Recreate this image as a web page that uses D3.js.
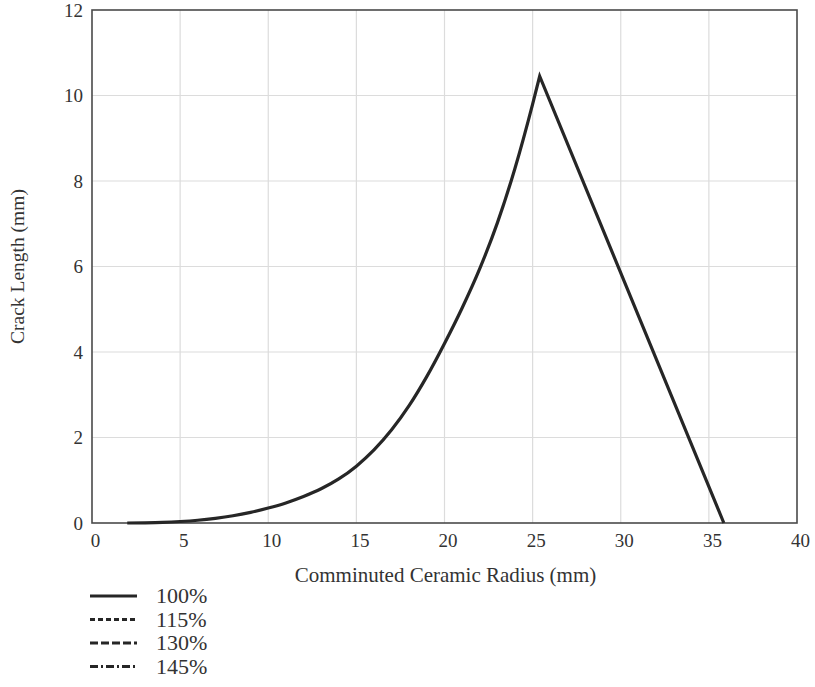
<!DOCTYPE html>
<html>
<head>
<meta charset="utf-8">
<script src="https://d3js.org/d3.v7.min.js"></script>
<style>
  body { margin: 0; background: #fff; }
  svg text { font-family: "Liberation Serif", "Times New Roman", serif; fill: #333; }
</style>
</head>
<body>
<div id="chart"></div>
<script>
// data
var radius = [2, 3, 4, 5, 6, 7, 8, 9, 10, 11, 12, 13, 14, 15, 16, 17, 18, 19, 20, 21, 22, 23, 24, 25, 25.4, 35.85];
var crack = [0, 0.005, 0.015, 0.035, 0.065, 0.11, 0.17, 0.25, 0.35, 0.47, 0.62, 0.8, 1.03, 1.33, 1.71, 2.18, 2.75, 3.43, 4.2, 5.03, 5.95, 7.02, 8.3, 9.8, 10.45, 0];
var xTicks = [0, 5, 10, 15, 20, 25, 30, 35, 40];
var yTicks = [0, 2, 4, 6, 8, 10, 12];
var legendLabels = ["100%", "115%", "130%", "145%"];
var legendDash = [null, "5,3", "8,3", "8,3,2,3"];

var W = 815, H = 687;
var edge = { top: 10, right: 18, bottom: 164, left: 92 };

var svg = d3.select("#chart").append("svg")
    .attr("width", W)
    .attr("height", H);

var x = d3.scaleLinear().domain([0, 40]).range([edge.left, W - edge.right]);
var y = d3.scaleLinear().domain([0, 12]).range([H - edge.bottom, edge.top]);

// grid
svg.append("g").selectAll("line").data(xTicks.slice(1, -1)).enter().append("line")
    .attr("x1", d => x(d)).attr("x2", d => x(d))
    .attr("y1", y(0)).attr("y2", y(12))
    .attr("stroke", "#dcdcdc").attr("stroke-width", 1.2);
svg.append("g").selectAll("line").data(yTicks.slice(1, -1)).enter().append("line")
    .attr("y1", d => y(d)).attr("y2", d => y(d))
    .attr("x1", x(0)).attr("x2", x(40))
    .attr("stroke", "#dcdcdc").attr("stroke-width", 1.2);

// frame
svg.append("rect")
    .attr("x", x(0)).attr("y", y(12))
    .attr("width", x(40) - x(0)).attr("height", y(0) - y(12))
    .attr("fill", "none").attr("stroke", "#4a4a4a").attr("stroke-width", 1.6);

// axes (labels only)
var xAxis = svg.append("g")
    .attr("transform", "translate(3," + y(0) + ")")
    .call(d3.axisBottom(x).tickValues(xTicks).tickSize(0).tickPadding(11));
var yAxis = svg.append("g")
    .attr("transform", "translate(" + (x(0) - 9) + ",0)")
    .call(d3.axisLeft(y).tickValues(yTicks).tickSize(0).tickPadding(0));
[xAxis, yAxis].forEach(function (a) {
  a.select(".domain").remove();
  a.selectAll("text").attr("font-family", "Liberation Serif").attr("font-size", 19).attr("fill", "#2e2e2e");
});

svg.append("text")
    .attr("x", (x(0) + x(40)) / 2 + 1).attr("y", 582)
    .attr("text-anchor", "middle").attr("font-size", 21)
    .text("Comminuted Ceramic Radius (mm)");
svg.append("text")
    .attr("transform", "translate(24," + ((y(0) + y(12)) / 2) + ") rotate(-90)")
    .attr("text-anchor", "middle").attr("font-size", 19.5)
    .text("Crack Length (mm)");

// curve: smooth rise, straight fall
var pts = radius.map((r, i) => [r, crack[i]]);
var line = d3.line()
    .x(d => x(d[0])).y(d => y(d[1]))
    .curve(d3.curveMonotoneX);
var last = pts[pts.length - 1];
svg.append("path")
    .attr("d", line(pts.slice(0, -1)) + "L" + x(last[0]) + "," + y(last[1]))
    .attr("fill", "none").attr("stroke", "#262626").attr("stroke-width", 3.2)
    .attr("stroke-linejoin", "miter");

// legend
var leg = svg.append("g").selectAll("g").data(legendLabels).enter().append("g")
    .attr("transform", (d, i) => "translate(0," + (596 + i * 23.5) + ")");
leg.append("line")
    .attr("x1", 90).attr("x2", 137)
    .attr("stroke", "#262626").attr("stroke-width", 3)
    .attr("stroke-dasharray", (d, i) => legendDash[i]);
leg.append("text")
    .attr("x", 156).attr("y", 7)
    .attr("font-size", 22)
    .text(d => d);
</script>
</body>
</html>
